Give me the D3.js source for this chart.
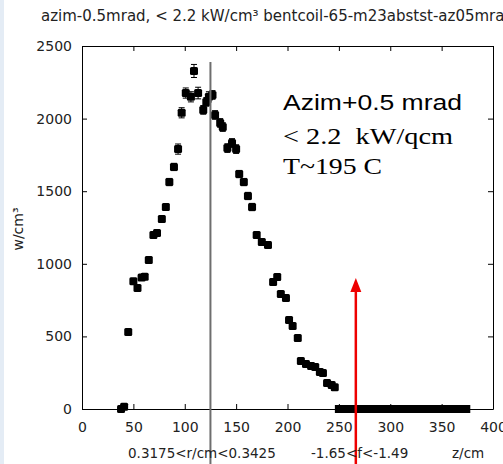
<!DOCTYPE html>
<html><head><meta charset="utf-8">
<script src="https://cdn.jsdelivr.net/npm/d3@7"></script>
<style>
html,body{margin:0;padding:0;background:#fff;overflow:hidden}
svg{display:block}
</style></head>
<body>
<svg id="c" width="503" height="464"></svg>
<script>
// ---- data ----
const zPeak = [38,41,45,50,54,58,61,65,69.5,73,77.7,81.6,85,89.5,93.5,97,101,106,109,113,118,121,123.5,127,129.5,134.5,137,141.5,146,150,153,157.5,161.5,165.5,170,175,181,186,190,193.5,198.5,201.5,205,210,213,218,223,227,231.5,234.5,238.5,243,246];
const vPeak = [0,15,530,880,833,905,910,1026,1198,1212,1309,1391,1563,1667,1790,2040,2176,2150,2328,2176,2060,2115,2150,2163,2025,1970,1942,1797,1832,1790,1618,1563,1467,1391,1198,1150,1130,875,909,792,764,613,572,489,330,310,296,289,255,248,179,165,150];
const ePeak = [10,10,15,15,15,15,15,20,20,20,20,20,25,25,35,35,35,35,45,40,30,30,35,30,30,30,30,30,30,30,25,25,25,25,20,20,20,20,20,15,15,15,15,15,10,10,10,10,10,10,10,10,10];
const zZero = [250,252,254,256,258,260,262,264,266,268,270,272,274,276,278,280,282,284,286,288,290,292,294,296,298,300,302,304,306,308,310,312,314,316,318,320,322,324,326,328,330,332,334,336,338,340,342,344,346,348,350,352,354,356,358,360,362,364,366,368,370,372,374];
const vZero = zZero.map(() => 0);
const xTicks = [0,50,100,150,200,250,300,350,400];
const yTicks = [0,500,1000,1500,2000,2500];
const title = "azim-0.5mrad, < 2.2 kW/cm³ bentcoil-65-m23abstst-az05mrad";
const yLabel = "w/cm³";
const bottomNotes = ["0.3175<r/cm<0.3425", "-1.65<f<-1.49", "z/cm"];
const annot = ["Azim+0.5 mrad", "< 2.2  kW/qcm", "T~195 C"];
const vLineZ = 125;
const arrowZ = 266.5;

// ---- chart ----
const svg = d3.select("#c");
const font = "DejaVu Sans, sans-serif";
svg.append("rect").attr("x",0).attr("y",0).attr("width",4).attr("height",464).attr("fill","#e4ecf5");

const x = d3.scaleLinear().domain([0,400]).range([82,493]);
const y = d3.scaleLinear().domain([0,2500]).range([409,46]);
const fmt = d3.format("d");

svg.append("text").attr("x",41).attr("y",21).attr("font-family",font).attr("font-size",15)
  .attr("fill","#222").text(title);

const gB = svg.append("g").attr("transform","translate(0,409)")
  .call(d3.axisBottom(x).tickValues(xTicks).tickFormat(fmt).tickSizeInner(-5).tickSizeOuter(0).tickPadding(13));
const gL = svg.append("g").attr("transform","translate(82,0)")
  .call(d3.axisLeft(y).tickValues(yTicks).tickFormat(fmt).tickSizeInner(-5).tickSizeOuter(0).tickPadding(10));
const gT = svg.append("g").attr("transform","translate(0,46)")
  .call(d3.axisTop(x).tickValues(xTicks).tickSizeInner(-5).tickSizeOuter(0).tickFormat(""));
const gR = svg.append("g").attr("transform","translate(493,0)")
  .call(d3.axisRight(y).tickValues(yTicks).tickSizeInner(-5).tickSizeOuter(0).tickFormat(""));
[gB,gL,gT,gR].forEach(g=>{
  g.selectAll("path.domain").attr("stroke","#000").attr("stroke-width",1);
  g.selectAll(".tick line").attr("stroke","#000");
  g.selectAll("text").attr("font-family",font).attr("font-size",14).attr("fill","#222");
});

svg.append("text").attr("transform","translate(23,229) rotate(-90)").attr("text-anchor","middle")
  .attr("font-family",font).attr("font-size",14).attr("fill","#222")
  .text(yLabel);

// points
const pts = zPeak.map((z,i)=>({z, v:vPeak[i], e:ePeak[i]}));
const zeros = zZero.map((z,i)=>({z, v:vZero[i]}));
const g = svg.append("g");
pts.forEach(d=>{
  const cx = x(d.z);
  g.append("line").attr("x1",cx).attr("x2",cx).attr("y1",y(d.v+d.e)).attr("y2",y(d.v-d.e)).attr("stroke","#000").attr("stroke-width",1);
  g.append("line").attr("x1",cx-3).attr("x2",cx+3).attr("y1",y(d.v+d.e)).attr("y2",y(d.v+d.e)).attr("stroke","#000").attr("stroke-width",1);
  g.append("line").attr("x1",cx-3).attr("x2",cx+3).attr("y1",y(d.v-d.e)).attr("y2",y(d.v-d.e)).attr("stroke","#000").attr("stroke-width",1);
});
g.selectAll("rect.p").data(pts).join("rect").attr("class","p")
  .attr("x",d=>x(d.z)-4).attr("y",d=>y(d.v)-4).attr("width",8).attr("height",8)
  .attr("rx",1.5).attr("fill","#000");
g.selectAll("rect.z").data(zeros).join("rect").attr("class","z")
  .attr("x",d=>x(d.z)-4).attr("y",d=>y(d.v)-4).attr("width",8).attr("height",8)
  .attr("fill","#000");

// vertical gray line
svg.append("line").attr("x1",x(vLineZ)).attr("x2",x(vLineZ)).attr("y1",62).attr("y2",464)
  .attr("stroke","#6e6e6e").attr("stroke-width",2);

// red arrow
const ax = x(arrowZ);
svg.append("line").attr("x1",ax).attr("x2",ax).attr("y1",464).attr("y2",290)
  .attr("stroke","#ee0000").attr("stroke-width",2.5);
svg.append("path").attr("d",`M${ax},278 L${ax-5.5},292 L${ax+5.5},292 Z`).attr("fill","#ee0000");

// annotation
svg.append("text").attr("x",283).attr("y",110).attr("font-family","Liberation Sans, Arial, sans-serif")
  .attr("font-size",22).attr("fill","#000").attr("textLength",179).attr("lengthAdjust","spacingAndGlyphs").text(annot[0]);
svg.append("text").attr("x",283).attr("y",144).attr("font-family","Liberation Serif, serif")
  .attr("font-size",23).attr("fill","#000").attr("textLength",170).attr("lengthAdjust","spacingAndGlyphs")
  .attr("xml:space","preserve").style("white-space","pre").text(annot[1]);
svg.append("text").attr("x",283).attr("y",174).attr("font-family","Liberation Serif, serif")
  .attr("font-size",23).attr("fill","#000").attr("textLength",99).attr("lengthAdjust","spacingAndGlyphs").text(annot[2]);

// bottom notes
svg.append("text").attr("x",128).attr("y",458).attr("font-family",font).attr("font-size",13.5).attr("fill","#222").text(bottomNotes[0]);
svg.append("text").attr("x",311).attr("y",458).attr("font-family",font).attr("font-size",13.5).attr("fill","#222").text(bottomNotes[1]);
svg.append("text").attr("x",452).attr("y",458).attr("font-family",font).attr("font-size",13.5).attr("fill","#222").text(bottomNotes[2]);
</script>
</body></html>
